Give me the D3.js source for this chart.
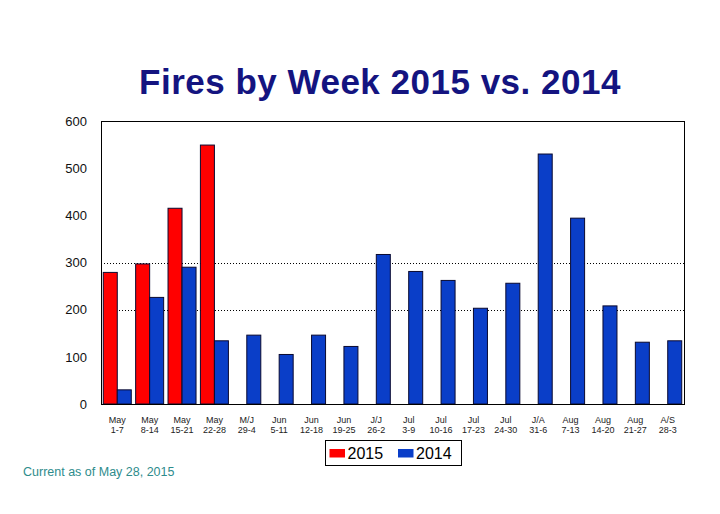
<!DOCTYPE html>
<html>
<head>
<meta charset="utf-8">
<script src="https://cdn.jsdelivr.net/npm/d3@7"></script>
<style>
  body { margin: 0; background: #fff; }
  svg { display: block; font-family: "Liberation Sans", Arial, sans-serif; }
</style>
</head>
<body>
<script>
// week labels, two lines each
const weekMonth = ["May", "May", "May", "May", "M/J", "Jun", "Jun", "Jun", "J/J",
    "Jul", "Jul", "Jul", "Jul", "J/A", "Aug", "Aug", "Aug", "A/S"];
const weekDays = ["1-7", "8-14", "15-21", "22-28", "29-4", "5-11", "12-18", "19-25", "26-2",
    "3-9", "10-16", "17-23", "24-30", "31-6", "7-13", "14-20", "21-27", "28-3"];

// fires per week (2015 only known through May)
const fires2015 = [279, 297, 415, 549, null, null, null, null, null,
    null, null, null, null, null, null, null, null, null];
const fires2014 = [30, 226, 290, 134, 146, 105, 146, 122, 317,
    281, 262, 203, 256, 530, 394, 208, 131, 134];

const seriesNames = ["2015", "2014"];
const yTicks = [0, 100, 200, 300, 400, 500, 600];
const gridValues = [200, 300];

const colors = { "2015": "#ff0000", "2014": "#0a3ec8" };

const width = 720, height = 514;
const plot = { left: 101, top: 121, right: 684, bottom: 404 };

const svg = d3.select("body").append("svg")
    .attr("width", width)
    .attr("height", height);

const x = d3.scaleBand()
    .domain(d3.range(weekDays.length))
    .range([plot.left, plot.right])
    .paddingInner(0.135)
    .paddingOuter(0.07);

const xInner = d3.scaleBand()
    .domain(seriesNames)
    .range([0, x.bandwidth()]);

const y = d3.scaleLinear()
    .domain([0, 600])
    .range([plot.bottom, plot.top]);

// title
svg.append("text")
    .attr("x", 380)
    .attr("y", 94)
    .attr("text-anchor", "middle")
    .style("font-size", "35px")
    .style("font-weight", "bold")
    .style("letter-spacing", "0.5px")
    .style("fill", "#141480")
    .text("Fires by Week 2015 vs. 2014");

// dotted gridlines
svg.append("g")
    .selectAll("line")
    .data(gridValues)
    .enter().append("line")
    .attr("x1", plot.left)
    .attr("x2", plot.right)
    .attr("y1", d => Math.round(y(d)) + 0.5)
    .attr("y2", d => Math.round(y(d)) + 0.5)
    .style("stroke", "#000")
    .style("stroke-width", 1)
    .style("stroke-dasharray", "1,2");

// bars
const rows = weekDays.map((d, i) => ({ i: i, "2015": fires2015[i], "2014": fires2014[i] }));

const group = svg.append("g")
    .selectAll("g")
    .data(rows)
    .enter().append("g")
    .attr("transform", d => "translate(" + x(d.i) + ",0)");

group.selectAll("rect")
    .data(d => seriesNames.filter(s => d[s] != null).map(s => ({ key: s, value: d[s] })))
    .enter().append("rect")
    .attr("x", d => xInner(d.key))
    .attr("y", d => y(d.value))
    .attr("width", xInner.bandwidth())
    .attr("height", d => y(0) - y(d.value))
    .style("fill", d => colors[d.key])
    .style("stroke", "#0a0a30")
    .style("stroke-width", 1);

// plot frame
svg.append("rect")
    .attr("x", plot.left + 0.5)
    .attr("y", plot.top + 0.5)
    .attr("width", plot.right - plot.left)
    .attr("height", plot.bottom - plot.top)
    .style("fill", "none")
    .style("stroke", "#000")
    .style("stroke-width", 1);

// y axis
const yAxis = svg.append("g")
    .attr("transform", "translate(" + (plot.left - 14) + ",0)")
    .call(d3.axisLeft(y).tickValues(yTicks).tickSize(0).tickPadding(0));
yAxis.select(".domain").remove();
yAxis.selectAll("text")
    .style("font-size", "13px")
    .style("font-family", "'Liberation Sans', Arial, sans-serif")
    .style("fill", "#111");

// x axis with two-line labels
const xAxis = svg.append("g")
    .attr("transform", "translate(0," + plot.bottom + ")")
    .call(d3.axisBottom(x).tickSize(0).tickFormat(""));
xAxis.select(".domain").remove();
xAxis.selectAll(".tick text").remove();
xAxis.selectAll(".tick").append("text")
    .attr("text-anchor", "middle")
    .style("font-size", "9px")
    .style("font-family", "'Liberation Sans', Arial, sans-serif")
    .style("fill", "#222")
    .each(function (d) {
        const t = d3.select(this);
        t.append("tspan").attr("x", 0).attr("y", 19).text(weekMonth[d]);
        t.append("tspan").attr("x", 0).attr("y", 29).text(weekDays[d]);
    });

// legend
const legend = svg.append("g").attr("transform", "translate(325,440)");
legend.append("rect")
    .attr("x", 0.5).attr("y", 0.5)
    .attr("width", 136).attr("height", 25)
    .style("fill", "#fff")
    .style("stroke", "#000");

const item = legend.selectAll(".item")
    .data(seriesNames)
    .enter().append("g")
    .attr("class", "item")
    .attr("transform", (d, i) => "translate(" + (4.5 + i * 68.5) + ",0)");
item.append("rect")
    .attr("y", 9)
    .attr("width", 15.5)
    .attr("height", 8.5)
    .style("fill", d => colors[d]);
item.append("text")
    .attr("x", 18)
    .attr("y", 19)
    .style("font-size", "16px")
    .style("fill", "#000")
    .text(d => d);

// footnote
svg.append("text")
    .attr("x", 23)
    .attr("y", 476)
    .style("font-size", "12.5px")
    .style("fill", "#2e8c8c")
    .text("Current as of May 28, 2015");
</script>
</body>
</html>
